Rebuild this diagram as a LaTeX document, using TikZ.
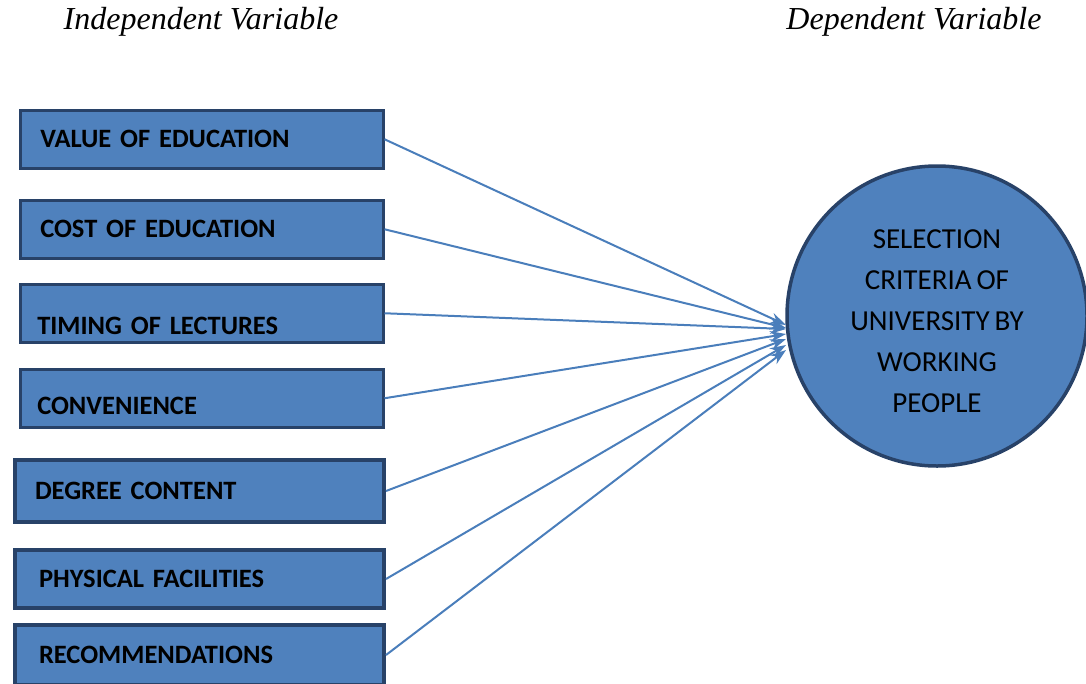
\documentclass[tikz,border=0pt]{standalone}
\usepackage{fontspec}
\setmainfont{Carlito}[WordSpace=0.75]
\newfontfamily\headfont{Liberation Serif}
\usepackage{tikz}
\usetikzlibrary{arrows.meta}

\definecolor{boxblue}{RGB}{79,129,189}
\definecolor{edgeblue}{RGB}{40,66,104}
\definecolor{arrowblue}{RGB}{74,126,187}

\tikzset{
    varbox/.style={draw=edgeblue, fill=boxblue, line width=2.5pt,
        minimum height=58pt, text width=323pt, inner xsep=20pt, inner ysep=2pt,
        align=left, anchor=north west, text height=17pt, text depth=0pt,
        font=\fontsize{26.5}{30}\selectfont\bfseries},
    heavybox/.style={varbox, line width=4pt, text width=329pt},
    link/.style={draw=arrowblue, line width=2pt, -{Stealth[length=16pt,width=11pt]}}
}

\begin{document}
\begin{tikzpicture}[x=1pt,y=-1pt]
            \useasboundingbox (0,0) rectangle (1086,683);
            % headings
            \node (indep) at (201,22) {\headfont\itshape\fontsize{32}{36}\selectfont Independent Variable};
            \node (dep)   at (914,22) {\headfont\itshape\fontsize{32}{36}\selectfont Dependent Variable};
            % independent variables
            \node [varbox]   (b1) at (19,109) {VALUE OF EDUCATION};
            \node [varbox]   (b2) at (19,199) {COST OF EDUCATION};
            \node [varbox, text height=43pt, inner xsep=17pt, text width=329pt] (b3) at (19,283) {TIMING OF LECTURES};
            \node [varbox, text height=33pt, inner xsep=17pt, text width=329pt] (b4) at (19,368) {CONVENIENCE};
            \node [heavybox, minimum height=62pt] (b5) at (13,458) {DEGREE CONTENT};
            \node [heavybox, inner xsep=24pt, text width=321pt] (b6) at (13,548) {PHYSICAL FACILITIES};
            \node [heavybox, minimum height=60pt, inner xsep=24pt, text width=321pt] (b7) at (13,623) {RECOMMENDATIONS};
            % dependent variable
            \node [circle, draw=edgeblue, fill=boxblue, line width=3.5pt, minimum size=300pt,
                   align=center, font=\fontsize{29}{41}\selectfont] (sel) at (937,316)
                  {\rule{0pt}{30pt}SELECTION\\CRITERIA OF\\UNIVERSITY BY\\WORKING\\PEOPLE};
            % arrow ends just left of the circle
            \foreach \n/\y in {1/325,2/328,3/329,4/334,5/339,6/345,7/350}{%
                \coordinate (e\n) at (786,\y);
                \draw [link] (b\n.east) -- (e\n);
            }
        \end{tikzpicture}
\end{document}
